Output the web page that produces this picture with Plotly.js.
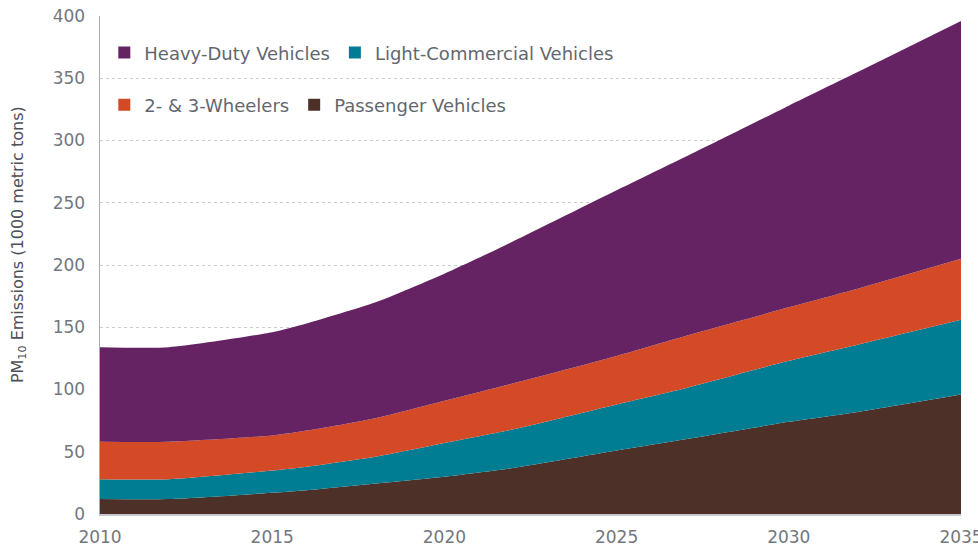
<!DOCTYPE html>
<html>
<head>
<meta charset="utf-8">
<script src="https://cdn.plot.ly/plotly-3.0.1.min.js"></script>
<style>html,body{margin:0;padding:0;background:#fff;}#chart{width:978px;height:549px;}</style>
</head>
<body>
<div id="chart"></div>
<script>
// Data (PM10 emissions, 1000 metric tons)
const years = [2010, 2012, 2015, 2016, 2018, 2020, 2022, 2025, 2027, 2030, 2032, 2035];
const passengerVehicles = [12, 12, 17, 19, 24.5, 30, 37, 51, 60, 74, 82, 96];
const lightCommercial = [16, 16, 18, 19, 21.5, 27, 31, 37, 41, 49, 54, 60];
const twoThreeWheelers = [30, 30, 28, 29, 31, 34, 37, 39, 42, 43, 45, 49];
const heavyDuty = [76, 76, 83, 86, 93, 102, 114, 133, 144, 162, 174, 191];

const seriesNames = ["Passenger Vehicles", "Light-Commercial Vehicles", "2- & 3-Wheelers", "Heavy-Duty Vehicles"];
const seriesColors = ["#4d3027", "#007d92", "#d44a26", "#652363"];
const seriesValues = [passengerVehicles, lightCommercial, twoThreeWheelers, heavyDuty];
const legendGroupOf = ["legend2", "legend", "legend2", "legend"];

const yTickVals = [0, 50, 100, 150, 200, 250, 300, 350, 400];
const xTickVals = [2010, 2015, 2020, 2025, 2030, 2035];
const yTitle = "PM<sub>10</sub> Emissions (1000 metric tons)";

const traces = [];
seriesValues.forEach((vals, i) => {
  traces.push({
    type: "scatter", mode: "lines", x: years, y: vals,
    stackgroup: "one", name: seriesNames[i],
    line: {width: 0, color: seriesColors[i], shape: "spline", smoothing: 0.6},
    fillcolor: seriesColors[i], showlegend: false, hoverinfo: "skip"
  });
});
// legend entries (square markers)
const legendOrder = [3, 1, 2, 0];
legendOrder.forEach(i => {
  traces.push({
    type: "scatter", mode: "markers", x: [null], y: [null],
    name: seriesNames[i], legend: legendGroupOf[i],
    marker: {symbol: "square", size: 12, color: seriesColors[i]},
    showlegend: true
  });
});

const fontFam = "'DejaVu Sans', 'Open Sans', sans-serif";
const layout = {
  width: 978, height: 549,
  margin: {l: 100, r: 17, t: 16, b: 35},
  paper_bgcolor: "#fff", plot_bgcolor: "#fff",
  font: {family: fontFam, color: "#62676e"},
  showlegend: true,
  xaxis: {
    range: [2010, 2035], tickvals: xTickVals, ticktext: xTickVals.map(String),
    showgrid: false, zeroline: false, showline: true, linecolor: "#c5c8cc", linewidth: 1.5,
    ticks: "", tickfont: {size: 17, color: "#727780"}, ticklabelstandoff: 7,
    ticklabeloverflow: "allow", fixedrange: true
  },
  yaxis: {
    range: [0, 400], tickvals: yTickVals, ticktext: yTickVals.map(String),
    showgrid: true, gridcolor: "#c9ccd0", griddash: "dot", gridwidth: 1,
    zeroline: false, showline: true, linecolor: "#a9adb2", linewidth: 1.5,
    ticks: "", tickfont: {size: 17, color: "#727780"}, ticklabelstandoff: 10,
    fixedrange: true
  },
  annotations: [{
    text: yTitle, xref: "paper", yref: "paper", x: -0.0952, y: 0.54,
    xanchor: "center", yanchor: "middle", textangle: -90, showarrow: false,
    font: {size: 16, color: "#4c5158", family: fontFam}
  }],
  legend: {
    orientation: "h", x: 0.005, y: 0.926, xanchor: "left", yanchor: "middle",
    xref: "paper", yref: "paper", bgcolor: "rgba(0,0,0,0)",
    font: {size: 18, color: "#62676e"}, traceorder: "normal", itemwidth: 30
  },
  legend2: {
    orientation: "h", x: 0.005, y: 0.821, xanchor: "left", yanchor: "middle",
    xref: "paper", yref: "paper", bgcolor: "rgba(0,0,0,0)",
    font: {size: 18, color: "#62676e"}, traceorder: "normal", itemwidth: 30
  }
};
Plotly.newPlot("chart", traces, layout, {displayModeBar: false, staticPlot: true});
</script>
</body>
</html>
